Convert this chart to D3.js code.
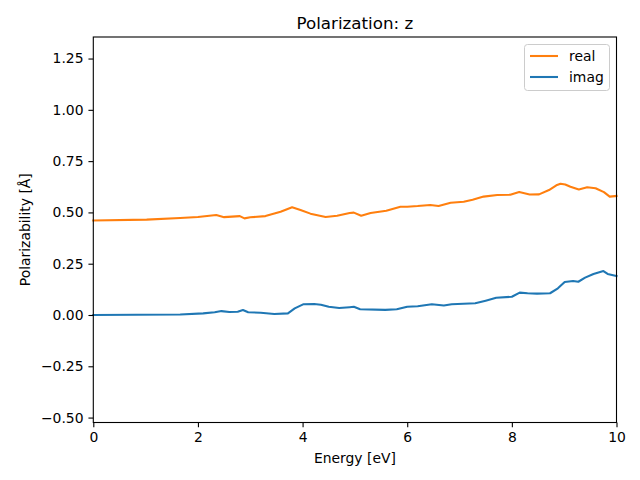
<!DOCTYPE html>
<html><head><meta charset="utf-8">
<script src="https://cdn.jsdelivr.net/npm/d3@7"></script>
<style>body{margin:0;background:#fff}svg{display:block}text{font-family:"DejaVu Sans",sans-serif;fill:#000}</style>
</head><body><svg id="c" width="640" height="480"></svg>
<script>
const realE = [0,1.02,1.66,2.0,2.35,2.5,2.8,2.89,3.0,3.29,3.58,3.8,3.96,4.15,4.44,4.66,4.9,4.98,5.12,5.3,5.6,5.87,6.0,6.2,6.44,6.6,6.83,7.08,7.25,7.46,7.72,7.97,8.14,8.34,8.52,8.71,8.85,8.93,9.02,9.12,9.28,9.44,9.6,9.76,9.87,10];
const realV = [0.461,0.465,0.473,0.478,0.487,0.477,0.482,0.471,0.476,0.482,0.503,0.525,0.512,0.494,0.478,0.484,0.497,0.499,0.484,0.497,0.508,0.528,0.528,0.531,0.536,0.531,0.547,0.552,0.562,0.577,0.585,0.586,0.599,0.587,0.588,0.609,0.632,0.64,0.636,0.625,0.612,0.623,0.618,0.599,0.577,0.58];
const imagE = [0,1.66,2.1,2.32,2.45,2.6,2.76,2.86,2.96,3.2,3.46,3.72,3.85,4.01,4.22,4.35,4.5,4.7,4.9,4.98,5.1,5.58,5.8,6.0,6.2,6.47,6.7,6.85,7.3,7.5,7.7,8.0,8.15,8.3,8.48,8.73,8.88,9.01,9.17,9.27,9.4,9.56,9.75,9.83,10];
const imagV = [0.0,0.002,0.008,0.013,0.019,0.015,0.016,0.024,0.013,0.011,0.005,0.008,0.032,0.052,0.054,0.05,0.04,0.034,0.038,0.040,0.028,0.025,0.028,0.040,0.043,0.052,0.046,0.052,0.057,0.07,0.084,0.089,0.109,0.106,0.104,0.106,0.13,0.161,0.166,0.162,0.182,0.2,0.214,0.2,0.19];
const xTicks = [0,2,4,6,8,10];
const yTicks = [-0.5,-0.25,0,0.25,0.5,0.75,1.0,1.25];
const seriesNames = ["real","imag"];
const seriesColors = ["#ff7f0e","#1f77b4"];

const svg = d3.select("#c");
const L=93.3,R=616.5,T=37,B=422.5;
const x = d3.scaleLinear().domain([0,10]).range([L,R]);
const y = d3.scaleLinear().domain([-0.524,1.355]).range([B,T]);

const line = d3.line().x(d=>x(d[0])).y(d=>y(d[1]));
const series = [d3.zip(realE,realV), d3.zip(imagE,imagV)];
svg.append("g").selectAll("path").data(series).join("path")
  .attr("d",line).attr("fill","none").attr("stroke",(d,i)=>seriesColors[i])
  .attr("stroke-width",2.08).attr("stroke-linejoin","round").attr("stroke-linecap","square");

const xa = svg.append("g").attr("transform",`translate(0,${B})`)
  .call(d3.axisBottom(x).tickValues(xTicks).tickFormat(d3.format("d")).tickSize(4.86).tickPadding(4.9));
const ya = svg.append("g").attr("transform",`translate(${L},0)`)
  .call(d3.axisLeft(y).tickValues(yTicks).tickFormat(d=>d3.format(".2f")(d).replace("-","\u2212")).tickSize(4.86).tickPadding(4.9));
[xa,ya].forEach(a=>{a.select(".domain").remove();a.selectAll("line").attr("stroke","#000").attr("stroke-width",1.1);
  a.selectAll("text").attr("font-size",13.9).attr("font-family","DejaVu Sans");});

svg.append("rect").attr("x",L).attr("y",T).attr("width",R-L).attr("height",B-T)
  .attr("fill","none").attr("stroke","#000").attr("stroke-width",1.1);

svg.append("text").attr("x",(L+R)/2).attr("y",29).attr("text-anchor","middle").attr("font-size",16.7).text("Polarization: z");
svg.append("text").attr("x",(L+R)/2).attr("y",463).attr("text-anchor","middle").attr("font-size",13.9).text("Energy [eV]");
svg.append("text").attr("transform",`translate(30,${(T+B)/2}) rotate(-90)`).attr("text-anchor","middle").attr("font-size",13.9).text("Polarizability [Å]");

const lg = svg.append("g");
lg.append("rect").attr("x",524.5).attr("y",44.5).attr("width",85).attr("height",46).attr("rx",3)
  .attr("fill","#fff").attr("fill-opacity",0.8).attr("stroke","#ccc").attr("stroke-width",1);
seriesNames.forEach((n,i)=>{
  const yy = 56+i*21;
  lg.append("line").attr("x1",530).attr("x2",558).attr("y1",yy).attr("y2",yy).attr("stroke",seriesColors[i]).attr("stroke-width",2.08);
  lg.append("text").attr("x",569).attr("y",yy+5).attr("font-size",13.9).text(n);
});
</script></body></html>
